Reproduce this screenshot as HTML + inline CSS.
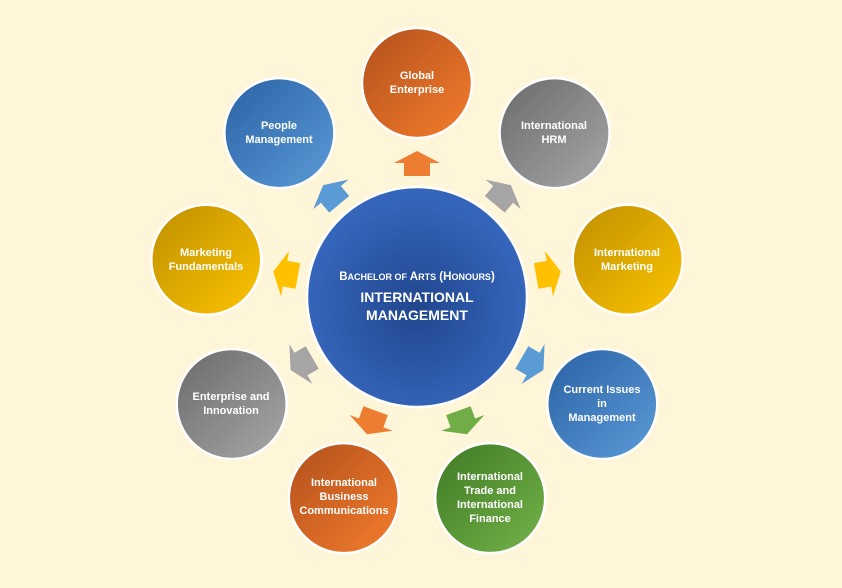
<!DOCTYPE html>
<html><head><meta charset="utf-8"><style>
html,body{margin:0;padding:0;background:#fff5d9;}
svg{display:block}
text{font-family:"Liberation Sans",sans-serif;font-weight:bold;fill:#fff;text-anchor:middle}
</style></head><body>
<svg width="842" height="588" viewBox="0 0 842 588">
<defs>
<linearGradient id="go" x1="0" y1="0" x2="1" y2="1"><stop offset="0" stop-color="#b2501c"/><stop offset="1" stop-color="#f47d2c"/></linearGradient>
<linearGradient id="gg" x1="0" y1="0" x2="1" y2="1"><stop offset="0" stop-color="#6a6a6a"/><stop offset="1" stop-color="#a8a8a8"/></linearGradient>
<linearGradient id="gy" x1="0" y1="0" x2="1" y2="1"><stop offset="0" stop-color="#bf8f00"/><stop offset="1" stop-color="#fcc400"/></linearGradient>
<linearGradient id="gb" x1="0" y1="0" x2="1" y2="1"><stop offset="0" stop-color="#2b62a4"/><stop offset="1" stop-color="#5b9bd8"/></linearGradient>
<linearGradient id="gn" x1="0" y1="0" x2="1" y2="1"><stop offset="0" stop-color="#3f7a24"/><stop offset="1" stop-color="#74b34a"/></linearGradient>
<radialGradient id="gc" cx="0.5" cy="0.55" r="0.5"><stop offset="0" stop-color="#21468e"/><stop offset="1" stop-color="#3565ba"/></radialGradient>
<path id="ar" d="M-23,0 L0,-12 L23,0 L13,0 L13,13 L-13,13 L-13,0 Z"/>
</defs>
<g transform="translate(417 297)">
<use href="#ar" fill="#ed7d31" transform="rotate(0) translate(0 -134)"/>
<use href="#ar" fill="#a5a5a5" transform="rotate(40) translate(0 -134)"/>
<use href="#ar" fill="#ffc000" transform="rotate(80) translate(0 -134)"/>
<use href="#ar" fill="#5b9bd5" transform="rotate(120) translate(0 -134)"/>
<use href="#ar" fill="#70ad47" transform="rotate(160) translate(0 -134)"/>
<use href="#ar" fill="#ed7d31" transform="rotate(200) translate(0 -134)"/>
<use href="#ar" fill="#a5a5a5" transform="rotate(240) translate(0 -134)"/>
<use href="#ar" fill="#ffc000" transform="rotate(280) translate(0 -134)"/>
<use href="#ar" fill="#5b9bd5" transform="rotate(320) translate(0 -134)"/>
</g>
<g stroke="#fff" stroke-width="2.5">
<circle cx="417" cy="297" r="110" fill="url(#gc)"/>
<circle cx="417" cy="83" r="55" fill="url(#go)"/>
<circle cx="554.6" cy="133.1" r="55" fill="url(#gg)"/>
<circle cx="627.7" cy="259.8" r="55" fill="url(#gy)"/>
<circle cx="602.3" cy="404" r="55" fill="url(#gb)"/>
<circle cx="490.2" cy="498.1" r="55" fill="url(#gn)"/>
<circle cx="343.8" cy="498.1" r="55" fill="url(#go)"/>
<circle cx="231.7" cy="404" r="55" fill="url(#gg)"/>
<circle cx="206.3" cy="259.8" r="55" fill="url(#gy)"/>
<circle cx="279.4" cy="133.1" r="55" fill="url(#gb)"/>
</g>
<text x="417" y="280" style="font-size:11.5px">B<tspan style="font-size:9px">ACHELOR OF</tspan> A<tspan style="font-size:9px">RTS</tspan> (H<tspan style="font-size:9px">ONOURS</tspan>)</text>
<text x="417" y="302" style="font-size:14px">INTERNATIONAL</text>
<text x="417" y="320" style="font-size:14px">MANAGEMENT</text>
<g style="font-size:11px">
<text x="417" y="79">Global</text><text x="417" y="93">Enterprise</text>
<text x="554" y="129">International</text><text x="554" y="143">HRM</text>
<text x="627" y="256">International</text><text x="627" y="270">Marketing</text>
<text x="602" y="393">Current Issues</text><text x="602" y="407">in</text><text x="602" y="421">Management</text>
<text x="490" y="480">International</text><text x="490" y="494">Trade and</text><text x="490" y="508">International</text><text x="490" y="522">Finance</text>
<text x="344" y="486">International</text><text x="344" y="500">Business</text><text x="344" y="514">Communications</text>
<text x="231" y="400">Enterprise and</text><text x="231" y="414">Innovation</text>
<text x="206" y="256">Marketing</text><text x="206" y="270">Fundamentals</text>
<text x="279" y="129">People</text><text x="279" y="143">Management</text>
</g>
</svg>
</body></html>
